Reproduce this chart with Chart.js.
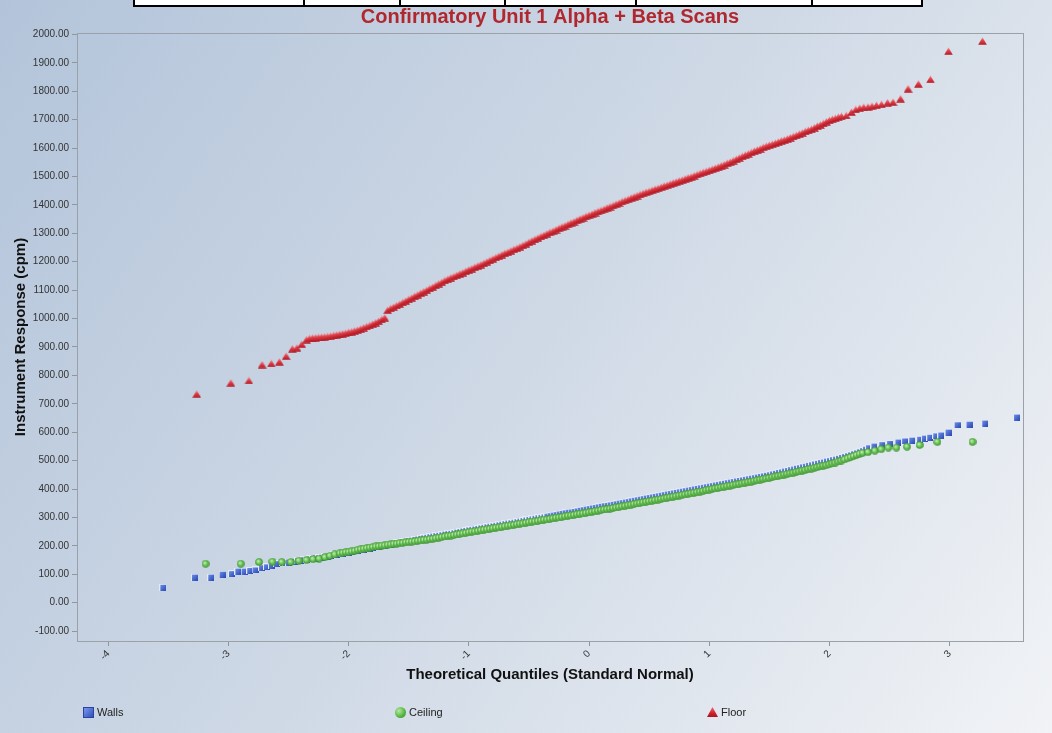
<!DOCTYPE html>
<html>
<head>
<meta charset="utf-8">
<title>Confirmatory Unit 1 Alpha + Beta Scans</title>
<script src="https://cdn.jsdelivr.net/npm/chart.js@4.4.1/dist/chart.umd.min.js"></script>
<style>
  body { margin: 0; background: #fff; }
  #wrap { position: relative; width: 1052px; height: 733px; overflow: hidden; }
  #qq { position: absolute; left: 0; top: 0; }
  /* bottom of the report table sitting above the chart */
  .tbl { position: absolute; top: -10px; height: 13px; border: 2px solid #000; background: #fff; }
  .tbl-div { position: absolute; top: -10px; width: 2px; height: 15px; background: #000; }
  .legend-item { position: absolute; top: 705px; height: 14px; display: flex; align-items: center;
    font: 11px "Liberation Sans", Arial, sans-serif; color: #222; }
  .legend-item span { margin-left: 3px; }
  .ico-sq { width: 9px; height: 9px; border: 1px solid #2a439c; background: linear-gradient(135deg, #7c98ea, #2f4fc0); }
  .ico-ci { width: 11px; height: 11px; border-radius: 50%;
    background: radial-gradient(circle at 35% 35%, #b2ea9e, #52b340 60%, #2f8a25); }
  .ico-tr { width: 11px; height: 10px; clip-path: polygon(50% 0, 100% 100%, 0 100%);
    background: linear-gradient(#f06a72, #d4202c 60%, #a8141e); }
</style>
</head>
<body>
<div id="wrap">
  <canvas id="qq" width="1052" height="733"></canvas>
  <div class="tbl" style="left:133px; width:786px;"></div>
  <div class="tbl-div" style="left:303px;"></div>
  <div class="tbl-div" style="left:399px;"></div>
  <div class="tbl-div" style="left:504px;"></div>
  <div class="tbl-div" style="left:635px;"></div>
  <div class="tbl-div" style="left:811px;"></div>
  <div class="legend-item" style="left:83px;"><div class="ico-sq"></div><span>Walls</span></div>
  <div class="legend-item" style="left:395px;"><div class="ico-ci"></div><span>Ceiling</span></div>
  <div class="legend-item" style="left:707px;"><div class="ico-tr"></div><span>Floor</span></div>
</div>
<script>
// axis ticks
const xTicks = [-4, -3, -2, -1, 0, 1, 2, 3];
const yTicks = [-100, 0, 100, 200, 300, 400, 500, 600, 700, 800, 900, 1000,
  1100, 1200, 1300, 1400, 1500, 1600, 1700, 1800, 1900, 2000];

// theoretical quantiles along the dense middle of the plot (one row = half a unit)
const qGrid = [
  -2.550, -2.525, -2.500, -2.475, -2.450, -2.425, -2.400, -2.375, -2.350, -2.325,
  -2.300, -2.275, -2.250, -2.225, -2.200, -2.175, -2.150, -2.125, -2.100, -2.075,
  -2.050, -2.025, -2.000, -1.975, -1.950, -1.925, -1.900, -1.875, -1.850, -1.825,
  -1.800, -1.775, -1.750, -1.725, -1.700, -1.675, -1.650, -1.625, -1.600, -1.575,
  -1.550, -1.525, -1.500, -1.475, -1.450, -1.425, -1.400, -1.375, -1.350, -1.325,
  -1.300, -1.275, -1.250, -1.225, -1.200, -1.175, -1.150, -1.125, -1.100, -1.075,
  -1.050, -1.025, -1.000, -0.975, -0.950, -0.925, -0.900, -0.875, -0.850, -0.825,
  -0.800, -0.775, -0.750, -0.725, -0.700, -0.675, -0.650, -0.625, -0.600, -0.575,
  -0.550, -0.525, -0.500, -0.475, -0.450, -0.425, -0.400, -0.375, -0.350, -0.325,
  -0.300, -0.275, -0.250, -0.225, -0.200, -0.175, -0.150, -0.125, -0.100, -0.075,
  -0.050, -0.025, 0.000, 0.025, 0.050, 0.075, 0.100, 0.125, 0.150, 0.175,
  0.200, 0.225, 0.250, 0.275, 0.300, 0.325, 0.350, 0.375, 0.400, 0.425,
  0.450, 0.475, 0.500, 0.525, 0.550, 0.575, 0.600, 0.625, 0.650, 0.675,
  0.700, 0.725, 0.750, 0.775, 0.800, 0.825, 0.850, 0.875, 0.900, 0.925,
  0.950, 0.975, 1.000, 1.025, 1.050, 1.075, 1.100, 1.125, 1.150, 1.175,
  1.200, 1.225, 1.250, 1.275, 1.300, 1.325, 1.350, 1.375, 1.400, 1.425,
  1.450, 1.475, 1.500, 1.525, 1.550, 1.575, 1.600, 1.625, 1.650, 1.675,
  1.700, 1.725, 1.750, 1.775, 1.800, 1.825, 1.850, 1.875, 1.900, 1.925,
  1.950, 1.975, 2.000, 2.025, 2.050, 2.075, 2.100, 2.125, 2.150, 2.175,
  2.200, 2.225, 2.250, 2.275, 2.300, 2.325, 2.350
];

// Walls (cpm)
const wallsMid = [
  140, 142, 143, 145, 146, 148, 149, 151, 152, 154,
  155, 157, 158, 160, 162, 164, 166, 168, 170, 172,
  174, 176, 178, 180, 182, 184, 186, 188, 190, 192,
  194, 196, 198, 200, 202, 204, 206, 208, 210, 212,
  214, 216, 218, 220, 222, 224, 226, 228, 230, 232,
  234, 236, 237, 239, 241, 243, 244, 246, 248, 250,
  252, 254, 256, 258, 259, 261, 263, 265, 267, 269,
  270, 272, 274, 276, 278, 280, 281, 283, 285, 287,
  289, 291, 293, 295, 297, 299, 300, 302, 304, 306,
  308, 310, 312, 314, 316, 318, 319, 321, 323, 325,
  327, 329, 331, 333, 335, 337, 339, 341, 342, 344,
  346, 348, 350, 352, 354, 356, 358, 360, 362, 364,
  366, 368, 370, 372, 374, 376, 378, 380, 382, 384,
  386, 388, 390, 392, 394, 396, 398, 400, 402, 404,
  406, 408, 410, 412, 414, 416, 418, 420, 422, 424,
  426, 428, 430, 432, 434, 436, 438, 440, 442, 444,
  446, 448, 450, 453, 455, 458, 460, 463, 465, 468,
  470, 473, 475, 478, 480, 483, 485, 488, 490, 493,
  495, 498, 500, 503, 505, 508, 511, 514, 517, 520,
  524, 527, 531, 535, 540, 545, null
];
const wallsLowQ = [-3.546, -3.283, -3.147, -3.053, -2.975, -2.922, -2.870, -2.823, -2.779, -2.725, -2.684, -2.642, -2.601];
const wallsLowV = [54, 90, 90, 100, 102, 111, 111, 113, 115, 123, 126, 132, 137];
const wallsHighQ = [2.37, 2.435, 2.50, 2.57, 2.625, 2.685, 2.75, 2.79, 2.834, 2.884, 2.926, 2.987, 3.062, 3.161, 3.292, 3.556];
const wallsHighV = [551, 556, 560, 565, 569, 572, 575, 579, 582, 587, 590, 600, 626, 628, 632, 653];

// Ceiling (cpm)
const ceilingMid = [
  null, null, null, null, null, null, null, null, null, null,
  null, null, null, null, null, null, null, null, null, null,
  176, 178, 179, 181, 183, 186, 188, 190, 192, 194,
  196, 198, 199, 201, 202, 204, 205, 207, 208, 210,
  211, 213, 214, 215, 216, 218, 219, 221, 222, 224,
  225, 227, 229, 231, 233, 235, 236, 238, 240, 242,
  244, 246, 248, 250, 251, 253, 255, 257, 258, 260,
  262, 264, 265, 267, 269, 271, 272, 274, 276, 278,
  279, 281, 283, 285, 286, 288, 290, 292, 293, 295,
  297, 299, 300, 302, 304, 306, 307, 309, 311, 313,
  314, 316, 318, 320, 322, 324, 326, 328, 329, 331,
  333, 335, 337, 339, 341, 343, 345, 347, 349, 351,
  353, 355, 357, 359, 361, 363, 365, 367, 369, 371,
  373, 375, 377, 379, 381, 383, 385, 387, 389, 391,
  393, 396, 398, 400, 402, 404, 406, 408, 410, 412,
  414, 416, 418, 420, 422, 424, 426, 429, 431, 433,
  435, 437, 439, 442, 444, 446, 448, 451, 453, 455,
  457, 460, 462, 465, 467, 470, 472, 475, 477, 480,
  482, 484, 487, 490, 493, 497, 500, 504, 508, 512,
  516, 520, 524, 527, null, null, null
];
const ceilingLowQ = [-3.19, -2.898, -2.745, -2.634, -2.557, -2.482, -2.415, -2.351, -2.296, -2.246, -2.198, -2.157, -2.116, -2.074];
const ceilingLowV = [137, 137, 143, 144, 143, 143, 148, 150, 153, 155, 160, 165, 170, 174];
const ceilingHighQ = [2.32, 2.377, 2.43, 2.49, 2.557, 2.645, 2.75, 2.898, 3.19];
const ceilingHighV = [530, 535, 540, 546, 546, 549, 555, 566, 566];

// Floor (cpm)
const floorMid = [
  null, null, null, null, null, null, null, null, 926, 930,
  932, 933, 934, 935, 936, 937, 939, 941, 943, 945,
  947, 949, 952, 954, 957, 960, 964, 968, 972, 976,
  981, 986, 991, 997, 1003, 1030, 1036, 1041, 1046, 1051,
  1057, 1062, 1068, 1073, 1079, 1084, 1090, 1095, 1100, 1106,
  1111, 1117, 1123, 1128, 1134, 1139, 1144, 1148, 1153, 1158,
  1162, 1167, 1172, 1176, 1181, 1186, 1190, 1195, 1200, 1205,
  1210, 1215, 1220, 1225, 1230, 1234, 1239, 1244, 1248, 1253,
  1258, 1263, 1269, 1274, 1279, 1284, 1289, 1294, 1299, 1304,
  1308, 1313, 1318, 1323, 1327, 1332, 1337, 1341, 1346, 1351,
  1355, 1360, 1364, 1368, 1373, 1377, 1381, 1385, 1390, 1394,
  1398, 1403, 1407, 1412, 1416, 1420, 1425, 1429, 1433, 1437,
  1441, 1445, 1448, 1452, 1456, 1459, 1463, 1467, 1470, 1474,
  1478, 1481, 1485, 1488, 1492, 1496, 1499, 1503, 1507, 1511,
  1515, 1518, 1522, 1526, 1530, 1534, 1538, 1542, 1547, 1551,
  1556, 1561, 1566, 1571, 1576, 1580, 1585, 1590, 1594, 1598,
  1603, 1607, 1611, 1614, 1618, 1622, 1626, 1629, 1633, 1637,
  1641, 1645, 1650, 1654, 1659, 1663, 1667, 1672, 1678, 1682,
  1687, 1693, 1698, 1702, 1705, 1709, 1712, null, null, null,
  null, null, null, null, null, null, null
];
const floorLowQ = [-3.264, -2.98, -2.83, -2.72, -2.643, -2.576, -2.52, -2.468, -2.43, -2.39];
const floorLowV = [735, 774, 782, 838, 842, 848, 868, 894, 897, 910];
const floorHighQ = [2.14, 2.183, 2.219, 2.252, 2.285, 2.321, 2.354, 2.391, 2.433, 2.483, 2.529, 2.591, 2.654, 2.74, 2.84, 2.99, 3.273];
const floorHighV = [1715, 1727, 1736, 1741, 1744, 1745, 1748, 1751, 1754, 1760, 1762, 1774, 1809, 1826, 1842, 1941, 1977];

const FONT = '"Liberation Sans", Arial, sans-serif';

// join the low tail, dense middle and high tail into one point list
function buildSeries(lowQ, lowV, mid, highQ, highV) {
    const pts = [];
    lowQ.forEach((q, i) => pts.push({ x: q, y: lowV[i] }));
    mid.forEach((v, i) => {
        if (v !== null) pts.push({ x: qGrid[i], y: v });
    });
    highQ.forEach((q, i) => pts.push({ x: q, y: highV[i] }));
    return pts;
}

// small shaded marker images
function makeMarker(w, h, paint) {
    const c = document.createElement('canvas');
    c.width = w;
    c.height = h;
    paint(c.getContext('2d'));
    return c;
}

const wallsMarker = makeMarker(7, 7, g => {
    g.fillStyle = '#e4eaf7';
    g.fillRect(0, 0, 7, 7);
    const grd = g.createLinearGradient(1, 1, 7, 7);
    grd.addColorStop(0, '#6d8ee6');
    grd.addColorStop(1, '#2646b4');
    g.fillStyle = grd;
    g.fillRect(1, 1, 6, 6);
});

const ceilingMarker = makeMarker(8, 8, g => {
    const grd = g.createRadialGradient(3, 3, 0.5, 4, 4, 4);
    grd.addColorStop(0, '#b8eca4');
    grd.addColorStop(0.6, '#5cb84a');
    grd.addColorStop(1, '#3a8c2e');
    g.fillStyle = grd;
    g.beginPath();
    g.arc(4, 4, 3.8, 0, Math.PI * 2);
    g.fill();
});

const floorMarker = makeMarker(9, 8, g => {
    const grd = g.createLinearGradient(0, 0, 0, 8);
    grd.addColorStop(0, '#f4a4aa');
    grd.addColorStop(0.45, '#e0404a');
    grd.addColorStop(1, '#b01822');
    g.fillStyle = grd;
    g.beginPath();
    g.moveTo(4.5, 0.2);
    g.lineTo(8.8, 7.8);
    g.lineTo(0.2, 7.8);
    g.closePath();
    g.fill();
});

// backdrop gradient, plot frame and title
const frame = {
    id: 'frame',
    beforeDraw(chart) {
        const { ctx, width, height } = chart;
        const grd = ctx.createLinearGradient(0, 0, width, height);
        grd.addColorStop(0, '#b3c4da');
        grd.addColorStop(0.5, '#cfd9e6');
        grd.addColorStop(1, '#f1f3f6');
        ctx.save();
        ctx.fillStyle = grd;
        ctx.fillRect(0, 0, width, height);
        ctx.restore();
    },
    beforeDatasetsDraw(chart) {
        const { ctx, chartArea: a } = chart;
        ctx.save();
        ctx.strokeStyle = '#9aa1a9';
        ctx.lineWidth = 1;
        ctx.strokeRect(Math.round(a.left) + 0.5, Math.round(a.top) + 0.5,
            Math.round(a.right - a.left), Math.round(a.bottom - a.top));
        ctx.restore();
    },
    afterDraw(chart) {
        const { ctx, chartArea: a } = chart;
        ctx.save();
        ctx.font = 'bold 20px ' + FONT;
        ctx.fillStyle = '#b0282e';
        ctx.textAlign = 'center';
        ctx.textBaseline = 'middle';
        ctx.fillText('Confirmatory Unit 1 Alpha + Beta Scans', (a.left + a.right) / 2, 17);
        ctx.restore();
    }
};

const axisGrey = '#8f969e';

new Chart(document.getElementById('qq'), {
    type: 'scatter',
    data: {
        datasets: [
            {
                label: 'Walls',
                data: buildSeries(wallsLowQ, wallsLowV, wallsMid, wallsHighQ, wallsHighV),
                pointStyle: wallsMarker,
                order: 2
            },
            {
                label: 'Ceiling',
                data: buildSeries(ceilingLowQ, ceilingLowV, ceilingMid, ceilingHighQ, ceilingHighV),
                pointStyle: ceilingMarker,
                order: 1
            },
            {
                label: 'Floor',
                data: buildSeries(floorLowQ, floorLowV, floorMid, floorHighQ, floorHighV),
                pointStyle: floorMarker,
                order: 3
            }
        ]
    },
    options: {
        responsive: false,
        animation: false,
        layout: { padding: { left: 8, right: 29, top: 33, bottom: 45 } },
        plugins: {
            legend: { display: false },
            tooltip: { enabled: false }
        },
        scales: {
            x: {
                type: 'linear',
                min: -4.26,
                max: 3.61,
                afterBuildTicks: s => { s.ticks = xTicks.map(v => ({ value: v })); },
                afterFit: s => { s.height = 47; },
                grid: { drawOnChartArea: false, drawTicks: true, tickLength: 5, color: axisGrey },
                border: { color: axisGrey },
                ticks: {
                    autoSkip: false, minRotation: 45, maxRotation: 45, padding: 2,
                    color: '#333', font: { family: FONT, size: 10 }
                },
                title: {
                    display: true,
                    text: 'Theoretical Quantiles (Standard Normal)',
                    color: '#111',
                    font: { family: FONT, size: 15, weight: 'bold' }
                }
            },
            y: {
                min: -135,
                max: 2005,
                afterBuildTicks: s => { s.ticks = yTicks.map(v => ({ value: v })); },
                afterFit: s => { s.width = 69; },
                grid: { drawOnChartArea: false, drawTicks: true, tickLength: 5, color: axisGrey },
                border: { color: axisGrey },
                ticks: {
                    padding: 3, color: '#333', font: { family: FONT, size: 10 },
                    callback: v => v.toFixed(2)
                },
                title: {
                    display: true,
                    text: 'Instrument Response (cpm)',
                    color: '#111',
                    font: { family: FONT, size: 15, weight: 'bold' }
                }
            }
        }
    },
    plugins: [frame]
});
</script>
</body>
</html>
